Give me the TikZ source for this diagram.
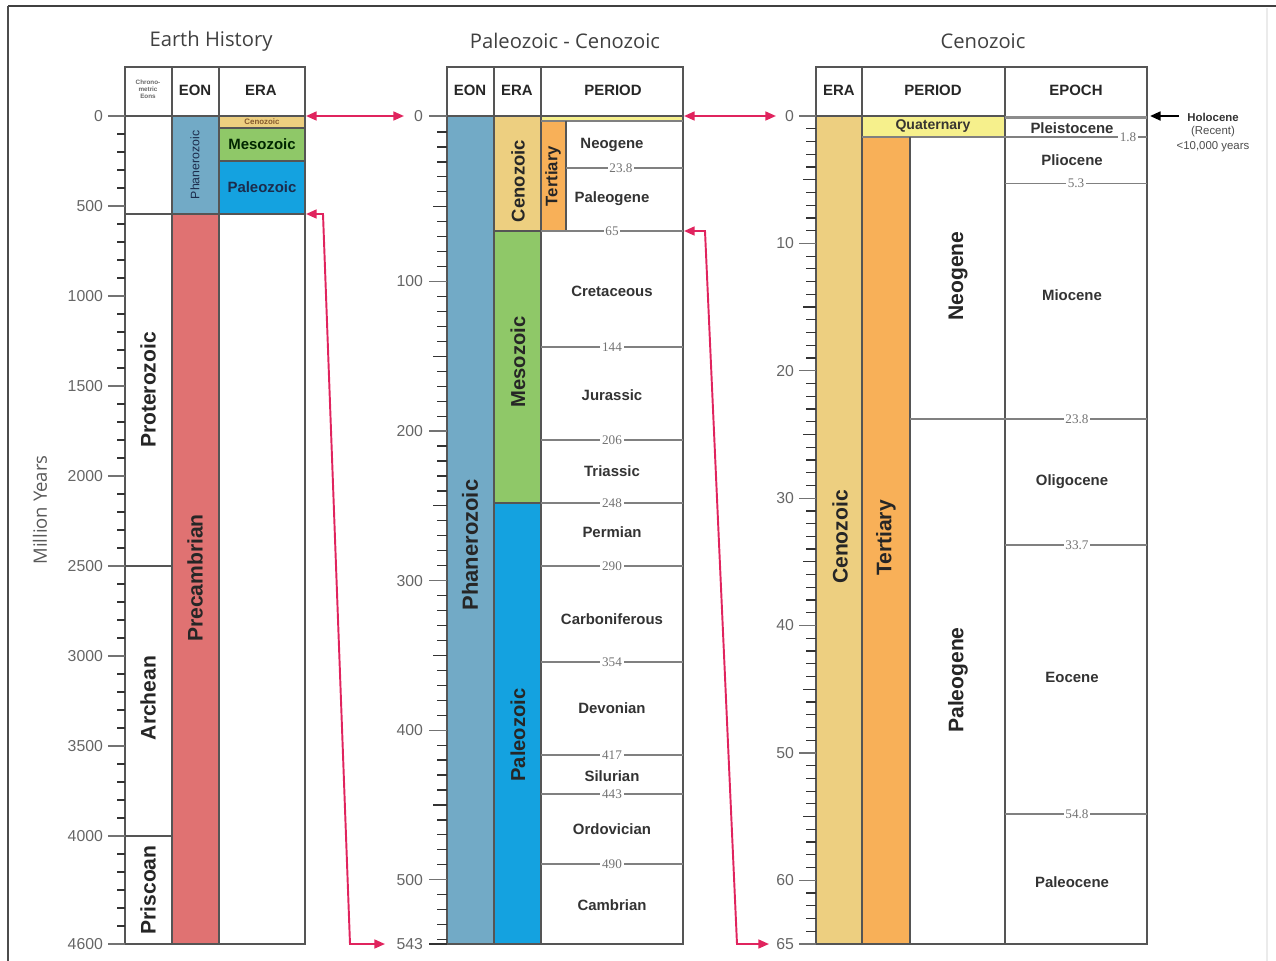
\documentclass[tikz,border=0pt]{standalone}
\usepackage{fontspec}
\setmainfont{Liberation Sans}
\newfontfamily\titlefont{Open Sans}
\newfontfamily\agefont{Liberation Serif}
\usetikzlibrary{arrows.meta}
\definecolor{phanero}{HTML}{72AAC6}
\definecolor{precam}{HTML}{E07272}
\definecolor{ceno}{HTML}{EDCF80}
\definecolor{quater}{HTML}{F6F08C}
\definecolor{meso}{HTML}{8FC868}
\definecolor{paleo}{HTML}{14A2E0}
\definecolor{tert}{HTML}{F8B058}
\definecolor{linkred}{HTML}{E0245E}
\definecolor{rule}{HTML}{555555}
\definecolor{navytext}{HTML}{1C2C4C}

\begin{document}
\begin{tikzpicture}[
    x=0.02cm, y=-0.02cm,
    title/.style={font=\titlefont\fontsize{11.5}{13}\selectfont, text=black!75},
    head/.style={font=\bfseries\fontsize{8.5}{10}\selectfont, text=black!85},
    band/.style={font=\bfseries\fontsize{12}{14}\selectfont, rotate=90, text=black!85},
    unit/.style={font=\bfseries\fontsize{8.5}{10}\selectfont, text=black!80},
    age/.style={font=\agefont\fontsize{7.5}{8}\selectfont, text=black!55, fill=white, inner sep=1pt},
    ticklbl/.style={font=\fontsize{9}{10}\selectfont, text=black!60, anchor=east, inner sep=1pt},
    frame/.style={draw=rule, line width=1pt},
    bound/.style={draw=black!50, line width=0.7pt},
    tk/.style={draw=black!80, line width=0.7pt},
    link/.style={draw=linkred, line width=1.1pt, {Triangle[length=6pt,width=5pt]}-{Triangle[length=6pt,width=5pt]}},
]
\useasboundingbox (0,0) rectangle (1276,961);

% outer frame
\draw[black!75, line width=1.6pt] (8,6) -- (1276,6);
\draw[black!70, line width=1pt] (8,6) -- (8,961);
\draw[black!8, line width=0.6pt] (1267,8) -- (1267,961);

\node[font=\titlefont\fontsize{10.5}{12}\selectfont, text=black!65, rotate=90] (ylabel) at (40,510) {Million Years};

% ---------------- Earth History ----------------
\node[title] (titleEarth) at (211,41) {Earth History};

\fill[phanero] (172,116) rectangle (219,214);
\fill[precam] (172,214) rectangle (219,944);
\fill[ceno] (219,116) rectangle (305,128);
\fill[meso] (219,128) rectangle (305,161);
\fill[paleo] (219,161) rectangle (305,214);

\draw[frame] (125,67) rectangle (305,944);
\draw[frame] (172,67) -- (172,944) (219,67) -- (219,944);
\draw[frame] (125,116) -- (305,116) (125,214) -- (305,214);
\draw[frame] (219,128) -- (305,128) (219,161) -- (305,161);
\draw[frame] (108,566) -- (172,566) (108,836) -- (172,836);

\node[font=\bfseries\fontsize{3.6}{4}\selectfont, text=black!60, align=center] (hChrono) at (148,89) {Chrono-\\metric\\Eons};
\node[head] (hEon1) at (195,90) {EON};
\node[head] (hEra1) at (261,90) {ERA};

\node[font=\fontsize{7}{8}\selectfont, rotate=90, text=navytext] (lPhan1) at (195,165) {Phanerozoic};
\node[font=\bfseries\fontsize{4.5}{5}\selectfont, text=brown!70!black] (lCeno1) at (262,122) {Cenozoic};
\node[unit, text=green!15!black] (lMeso1) at (262,144) {Mesozoic};
\node[unit, text=navytext] (lPaleo1) at (262,187) {Paleozoic};
\node[band] (lPrecam) at (195,578) {Precambrian};
\node[band] (lProt) at (148,390) {Proterozoic};
\node[band] (lArch) at (148,698) {Archean};
\node[band] (lPris) at (148,890) {Priscoan};

\foreach \v in {0,100,...,4600}
    \draw[tk] (117,{116+0.18*\v}) -- (125,{116+0.18*\v});
\foreach \v in {0,500,...,4000,4600} {
    \draw[tk, black!55] (108,{116+0.18*\v}) -- (125,{116+0.18*\v});
    \node[ticklbl] (yl\v) at (105,{116+0.18*\v}) {\v};
}

% ---------------- Paleozoic - Cenozoic ----------------
\node[title] (titlePaleo) at (565,41) {Paleozoic - Cenozoic};

\fill[phanero] (447,116) rectangle (494,944);
\fill[ceno] (494,116) rectangle (541,231);
\fill[meso] (494,231) rectangle (541,503);
\fill[paleo] (494,503) rectangle (541,944);
\fill[quater] (541,116) rectangle (683,121);
\fill[tert] (541,121) rectangle (566,231);

\draw[frame] (447,67) rectangle (683,944);
\draw[frame] (494,67) -- (494,944) (541,67) -- (541,944);
\draw[frame] (447,116) -- (683,116);
\draw[bound] (541,121) -- (683,121);
\draw[frame] (566,121) -- (566,231);
\draw[frame] (494,231) -- (566,231) (494,503) -- (541,503);

\node[head] (hEon2) at (470,90) {EON};
\node[head] (hEra2) at (517,90) {ERA};
\node[head] (hPer2) at (613,90) {PERIOD};

\node[band, font=\bfseries\fontsize{12.5}{14}\selectfont] (lPhan2) at (470,545) {Phanerozoic};
\node[band, font=\bfseries\fontsize{10.5}{12}\selectfont] (lCeno2) at (518,181) {Cenozoic};
\node[band, font=\bfseries\fontsize{11.5}{13}\selectfont] (lMeso2) at (518,362) {Mesozoic};
\node[band, font=\bfseries\fontsize{11.5}{13}\selectfont] (lPaleo2) at (518,735) {Paleozoic};
\node[band, font=\bfseries\fontsize{9.5}{11}\selectfont] (lTert2) at (553,176) {Tertiary};

\draw[bound] (566,168) -- (683,168);
\node[age] (a238m) at (621,168) {23.8};
\foreach \y/\t in {231/65, 347/144, 440/206, 503/248, 566/290, 662/354, 755/417, 794/443, 864/490} {
    \draw[bound] (541,\y) -- (683,\y);
    \node[age] (am\t) at (612,\y) {\t};
}
\foreach \y/\t/\n in {145/Neogene/pNeo, 199/Paleogene/pPaleog, 291/Cretaceous/pCret, 395/Jurassic/pJur,
                      471/Triassic/pTri, 532/Permian/pPerm, 619/Carboniferous/pCarb, 708/Devonian/pDev,
                      776/Silurian/pSil, 829/Ordovician/pOrd, 905/Cambrian/pCamb}
    \node[unit] (\n) at (612,\y) {\t};

\foreach \v in {0,10,...,540}
    \draw[tk] (437,{132+1.4954*\v}) -- (447,{132+1.4954*\v});
\foreach \v in {50,150,...,450}
    \draw[tk] (433,{132+1.4954*\v}) -- (447,{132+1.4954*\v});
\foreach \v in {100,200,...,500} {
    \draw[tk, black!55] (429,{132+1.4954*\v}) -- (447,{132+1.4954*\v});
    \node[ticklbl] (ym\v) at (425,{132+1.4954*\v}) {\v};
}
\draw[tk, black!55] (429,116) -- (447,116);
\node[ticklbl] (ym0) at (425,116) {0};
\draw[tk, line width=1pt] (429,944) -- (447,944);
\node[ticklbl] (ym543) at (425,944) {543};

% ---------------- Cenozoic ----------------
\node[title] (titleCeno) at (983,41) {Cenozoic};

\fill[ceno] (816,116) rectangle (862,944);
\fill[quater] (862,116) rectangle (1005,137);
\fill[tert] (862,137) rectangle (910,944);

\draw[frame] (816,67) rectangle (1147,944);
\draw[frame] (862,67) -- (862,944) (1005,67) -- (1005,944);
\draw[frame] (816,116) -- (1005,116);
\draw[bound] (862,137) -- (1005,137);
\draw[frame] (910,137) -- (910,944);
\draw[black!45, line width=2pt] (1005,117.5) -- (1147,117.5);

\node[head] (hEra3) at (839,90) {ERA};
\node[head] (hPer3) at (933,90) {PERIOD};
\node[head] (hEpo3) at (1076,90) {EPOCH};

\node[band, font=\bfseries\fontsize{12}{14}\selectfont] (lCeno3) at (840,537) {Cenozoic};
\node[band, font=\bfseries\fontsize{12}{14}\selectfont] (lTert3) at (886,538) {Tertiary};
\node[band, font=\bfseries\fontsize{12}{14}\selectfont] (lNeo3) at (958,276) {Neogene};
\node[band, font=\bfseries\fontsize{12}{14}\selectfont] (lPaleog3) at (958,680) {Paleogene};
\node[unit, font=\bfseries\fontsize{8}{9}\selectfont, text=black!75!yellow!40!black] (lQuat3) at (933,126) {Quaternary};

\draw[bound] (1005,137) -- (1147,137);
\node[age] (a18) at (1128,137) {1.8};
\draw[bound] (1005,183.5) -- (1147,183.5);
\node[age] (a53) at (1076,183.5) {5.3};
\draw[bound] (910,419) -- (1147,419);
\node[age] (a238r) at (1077,419) {23.8};
\draw[bound] (1005,545) -- (1147,545);
\node[age] (a337) at (1077,545) {33.7};
\draw[bound] (1005,814) -- (1147,814);
\node[age] (a548) at (1077,814) {54.8};

\foreach \y/\t/\n in {128/Pleistocene/eQPle, 160/Pliocene/ePlio, 295/Miocene/eMio, 482/Oligocene/eOli,
                      677/Eocene/eEoc, 882/Paleocene/ePaleoc}
    \node[unit] (\n) at (1072,\y) {\t};

\foreach \v in {0,...,65}
    \draw[tk] (806,{116+12.738*\v}) -- (816,{116+12.738*\v});
\foreach \v in {5,15,...,55}
    \draw[tk] (803,{116+12.738*\v}) -- (816,{116+12.738*\v});
\foreach \v in {0,10,...,60,65} {
    \draw[tk, black!55] (799,{116+12.738*\v}) -- (816,{116+12.738*\v});
    \node[ticklbl] (yr\v) at (796,{116+12.738*\v}) {\v};
}

% Holocene note
\node[font=\bfseries\fontsize{6.5}{7}\selectfont, text=black!80] (holo) at (1213,117) {Holocene};
\node[font=\fontsize{6.5}{7}\selectfont, text=black!70] (holoR) at (1213,132) {(Recent)};
\node[font=\fontsize{6.5}{7}\selectfont, text=black!70] (holoY) at (1213,147) {<10,000 years};
\coordinate (holoTip) at (1150,116);
\draw[black, line width=1.3pt, -{Triangle[length=6pt,width=5pt]}] (holo.west) ++(-2,-1) -- (holoTip);

% red links
\coordinate (lTop) at (306,116);
\coordinate (mTop) at (404,116);
\coordinate (lBase) at (306,214);
\coordinate (mBase) at (385,944);
\coordinate (mTopR) at (684,116);
\coordinate (rTop) at (776,116);
\coordinate (mK) at (684,231);
\coordinate (rBase) at (769,944);

\draw[link] (lTop) -- (mTop);
\draw[link] (lBase) -- (323,214) -- (350,944) -- (mBase);
\draw[link] (mTopR) -- (rTop);
\draw[link] (mK) -- (705,231) -- (737,944) -- (rBase);

\end{tikzpicture}
\end{document}
